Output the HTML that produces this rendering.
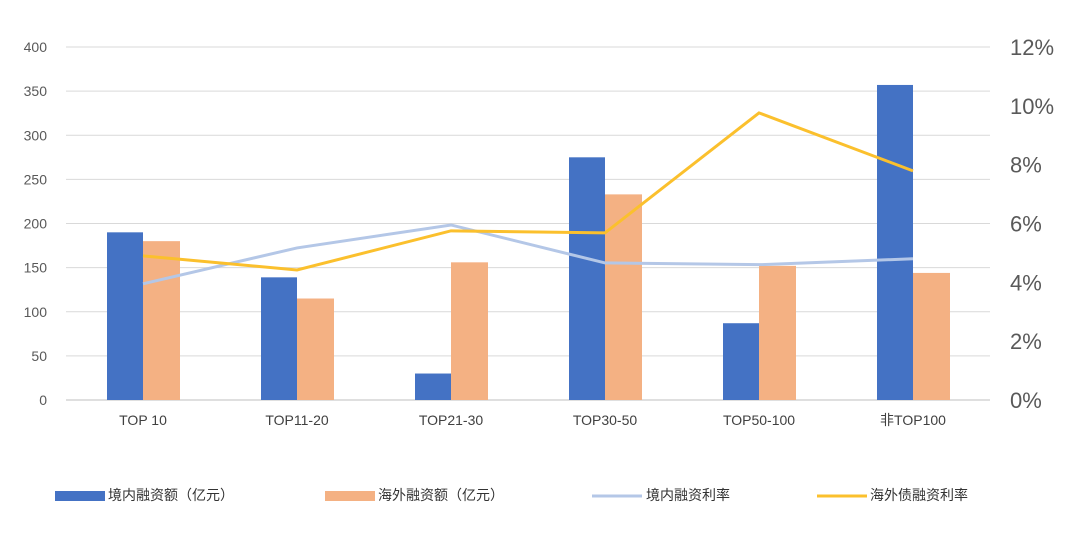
<!DOCTYPE html>
<html><head><meta charset="utf-8"><style>
body{margin:0;background:#fff;}
svg text{font-family:"Liberation Sans","Noto Sans CJK SC",sans-serif;}
</style></head><body>
<svg id="chart" width="1080" height="530" xmlns="http://www.w3.org/2000/svg">
<g id="grid"></g><g id="bars"></g><g id="lines"></g><g id="labels"></g>
<g id="legend">
<rect x="55" y="491" width="50" height="10" fill="#4472c4"/>
<text x="108" y="500" font-size="14" fill="#333">境内融资额（亿元）</text>
<rect x="325" y="491" width="50" height="10" fill="#f4b183"/>
<text x="378" y="500" font-size="14" fill="#333">海外融资额（亿元）</text>
<line x1="592" y1="496" x2="642" y2="496" stroke="#b4c7e7" stroke-width="3"/>
<text x="646" y="500" font-size="14" fill="#333">境内融资利率</text>
<line x1="817" y1="496" x2="867" y2="496" stroke="#fbc02d" stroke-width="3"/>
<text x="870" y="500" font-size="14" fill="#333">海外债融资利率</text>
</g>
</svg>
<script>
const categories=["TOP 10","TOP11-20","TOP21-30","TOP30-50","TOP50-100","非TOP100"];
const domestic=[190,139,30,275,87,357];
const overseas=[180,115,156,233,152,144];
const domesticRate=[3.95,5.17,5.95,4.66,4.6,4.8];
const overseasRate=[4.9,4.42,5.75,5.68,9.76,7.79];
const leftTicks=[0,50,100,150,200,250,300,350,400];
const rightTicks=[0,2,4,6,8,10,12];
const NS="http://www.w3.org/2000/svg";
const X0=66,X1=990,Y0=400,Y1=47;
const bw=(X1-X0)/categories.length;
const yL=v=>Y0-(v/400)*(Y0-Y1);
const yR=v=>Y0-(v/12)*(Y0-Y1);
const cx=i=>X0+bw*(i+0.5);
function mk(tag,attrs,parent){const e=document.createElementNS(NS,tag);for(const k in attrs)e.setAttribute(k,attrs[k]);document.getElementById(parent).appendChild(e);return e;}
leftTicks.forEach(t=>{
 const g=mk('line',{x1:X0,x2:X1,y1:yL(t),y2:yL(t),stroke:t===0?'#bfbfbf':'#d9d9d9','stroke-width':1},'grid');
 
 
 const tx=mk('text',{x:47,y:yL(t)+5,'text-anchor':'end','font-size':14,fill:'#595959'},'labels');
 tx.textContent=t;
 
 
});
rightTicks.forEach(t=>{
 const tx=mk('text',{x:1010,y:yR(t)+8,'font-size':22,fill:'#595959'},'labels');
 tx.textContent=t+'%';
 
 
});
categories.forEach((c,i)=>{
 const b1=mk('rect',{x:cx(i)-36,y:yL(domestic[i]),width:36,height:Y0-yL(domestic[i]),fill:'#4472c4'},'bars');
 
 
 const b2=mk('rect',{x:cx(i),y:yL(overseas[i]),width:37,height:Y0-yL(overseas[i]),fill:'#f4b183'},'bars');
 
 
 const tx=mk('text',{x:cx(i),y:425,'text-anchor':'middle','font-size':14,fill:'#404040'},'labels');
 tx.textContent=c;
 
 
});
const p1=mk('polyline',{points:domesticRate.map((v,i)=>cx(i)+','+yR(v)).join(' '),fill:'none',stroke:'#b4c7e7','stroke-width':3},'lines');


const p2=mk('polyline',{points:overseasRate.map((v,i)=>cx(i)+','+yR(v)).join(' '),fill:'none',stroke:'#fbc02d','stroke-width':3},'lines');


</script>
</body></html>
